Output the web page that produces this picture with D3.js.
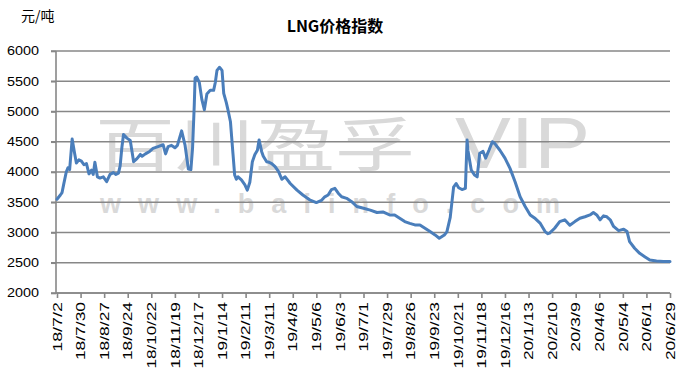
<!DOCTYPE html>
<html><head><meta charset="utf-8">
<script src="https://cdn.jsdelivr.net/npm/d3@7"></script>
<style>
html,body{margin:0;padding:0;background:#fff;}
svg{display:block;}
</style></head>
<body><svg id="c" width="685" height="380"></svg>
<script>
// ---- data ----
const startDate = "2018-07-02";
// days since start date
const dayOffsets = [0,4,6,8,11,13,15,18,21,23,26,29,32,35,38,41,43,45,48,51,55,59,63,67,70,73,75,77,79,83,87,91,95,99,101,105,110,114,120,126,129,132,136,140,143,148,152,156,159,161,163,164,166,169,172,175,178,182,186,188,190,193,196,198,201,203,206,209,211,213,215,219,223,226,229,232,235,238,240,243,245,249,252,255,259,263,267,271,277,285,292,300,308,314,318,322,326,330,334,338,344,350,356,364,372,380,387,395,401,407,413,419,425,431,437,443,449,454,460,463,467,471,474,477,481,485,487,488,492,496,499,502,506,509,513,517,520,526,532,538,544,550,556,562,568,574,580,583,585,591,597,603,609,615,621,627,633,637,641,645,649,653,657,661,667,673,677,680,686,692,698,704,712,720,728];
const priceValues = [3550,3620,3660,3800,4000,4070,4040,4545,4300,4150,4200,4180,4120,4140,3970,4030,3960,4160,3920,3900,3920,3840,3960,3990,3960,3980,4100,4400,4620,4560,4520,4170,4220,4290,4260,4300,4340,4390,4420,4450,4300,4420,4440,4400,4440,4680,4450,4050,4040,4400,5100,5550,5570,5480,5200,5030,5290,5350,5350,5480,5680,5730,5680,5300,5150,5030,4830,4300,3950,3880,3920,3870,3790,3700,3830,4170,4290,4360,4530,4340,4260,4170,4160,4140,4090,4010,3880,3920,3810,3700,3620,3540,3495,3530,3590,3620,3710,3730,3650,3590,3565,3510,3430,3400,3370,3330,3340,3290,3290,3235,3180,3150,3125,3125,3070,3015,2960,2905,2960,3010,3250,3750,3810,3740,3710,3730,4530,4360,4030,3950,3920,4310,4340,4230,4360,4500,4470,4360,4230,4060,3840,3590,3430,3290,3230,3150,3010,2980,2990,3070,3180,3210,3120,3180,3235,3260,3290,3330,3290,3210,3275,3260,3210,3100,3030,3055,3015,2850,2740,2655,2600,2545,2530,2520,2520];
const tickLabels = ["18/7/2","18/7/30","18/8/27","18/9/24","18/10/22","18/11/19","18/12/17","19/1/14","19/2/11","19/3/11","19/4/8","19/5/6","19/6/3","19/7/1","19/7/29","19/8/26","19/9/23","19/10/21","19/11/18","19/12/16","20/1/13","20/2/10","20/3/9","20/4/6","20/5/4","20/6/1","20/6/29"];
const yTicks = [2000,2500,3000,3500,4000,4500,5000,5500,6000];
const titleText = "LNG价格指数";
const unitText = "元/吨";

// ---- chart ----
const svg = d3.select("#c");
const base = d3.timeParse("%Y-%m-%d")(startDate);
const data = dayOffsets.map((d,i)=>({date:d3.timeDay.offset(base,d), v:priceValues[i]}));
const parseTick = d3.timeParse("%y/%m/%d");
const tickDates = tickLabels.map(parseTick);

const x = d3.scaleTime().domain([tickDates[0], tickDates[tickDates.length-1]]).range([57,670]);
const y = d3.scaleLinear().domain([2000,6000]).range([293,51]);

const latin = "'Liberation Sans', Arial, sans-serif";
const cjk = "'Noto Sans CJK SC', sans-serif";

// watermark
const wm = svg.append("g").attr("fill","#d9d9d9");
wm.append("text").attr("x",95).attr("y",166).attr("font-family",cjk).attr("font-size",58)
  .attr("textLength",320).attr("lengthAdjust","spacingAndGlyphs").text("百川盈孚");
wm.append("text").attr("x",455).attr("y",168).attr("font-family",latin).attr("font-size",72)
  .attr("textLength",135).attr("lengthAdjust","spacingAndGlyphs").text("VIP");
wm.append("text").attr("x",100).attr("y",213).attr("font-family",latin).attr("font-weight","bold").attr("font-size",27)
  .attr("textLength",460).attr("lengthAdjust","spacing").text("www.baiinfo.com");

// gridlines
svg.append("g").selectAll("line").data(yTicks).join("line")
  .attr("x1",51).attr("x2",670).attr("y1",d=>y(d)).attr("y2",d=>y(d))
  .attr("stroke","#878787").attr("stroke-width",1.6);

// y axis
const ya = svg.append("g").attr("transform","translate(56,0)")
  .call(d3.axisLeft(y).tickValues(yTicks).tickSize(5).tickPadding(12).tickFormat(d3.format("d")));
ya.select(".domain").attr("stroke","#878787").attr("stroke-width",1.6).attr("d","M0,51V293");
ya.selectAll(".tick line").attr("stroke","#878787").attr("stroke-width",1.6);
ya.selectAll(".tick text").attr("font-family",latin).attr("font-size",12).attr("fill","#000")
  .attr("textLength",32).attr("lengthAdjust","spacingAndGlyphs");

// x axis
const xa = svg.append("g").attr("transform","translate(0,293)")
  .call(d3.axisBottom(x).tickValues(tickDates).tickSize(5).tickFormat((d,i)=>tickLabels[i]));
xa.select(".domain").attr("stroke","#878787").attr("stroke-width",1.6).attr("d","M56,0H670");
xa.selectAll(".tick line").attr("stroke","#878787").attr("stroke-width",1.6);
xa.selectAll(".tick text")
  .attr("font-family",latin).attr("font-size",12).attr("fill","#000")
  .attr("text-anchor","end").attr("transform","rotate(-90)")
  .attr("x",-9).attr("y",0).attr("dy","0.35em")
  .attr("textLength",(d,i)=>tickLabels[i].length*8.3).attr("lengthAdjust","spacingAndGlyphs");

// line
const line = d3.line().x(d=>x(d.date)).y(d=>y(d.v)).curve(d3.curveLinear);
svg.append("path").datum(data).attr("d",line).attr("fill","none")
  .attr("stroke","#4a7ebb").attr("stroke-width",3).attr("stroke-linejoin","round").attr("stroke-linecap","round");

// texts
svg.append("text").attr("x",21).attr("y",21).attr("font-family",cjk).attr("font-size",14).attr("fill","#000").text(unitText);
svg.append("text").attr("x",335).attr("y",32).attr("text-anchor","middle").attr("font-family",cjk)
  .attr("font-weight","bold").attr("font-size",16).attr("fill","#000").text(titleText);
</script></body></html>
